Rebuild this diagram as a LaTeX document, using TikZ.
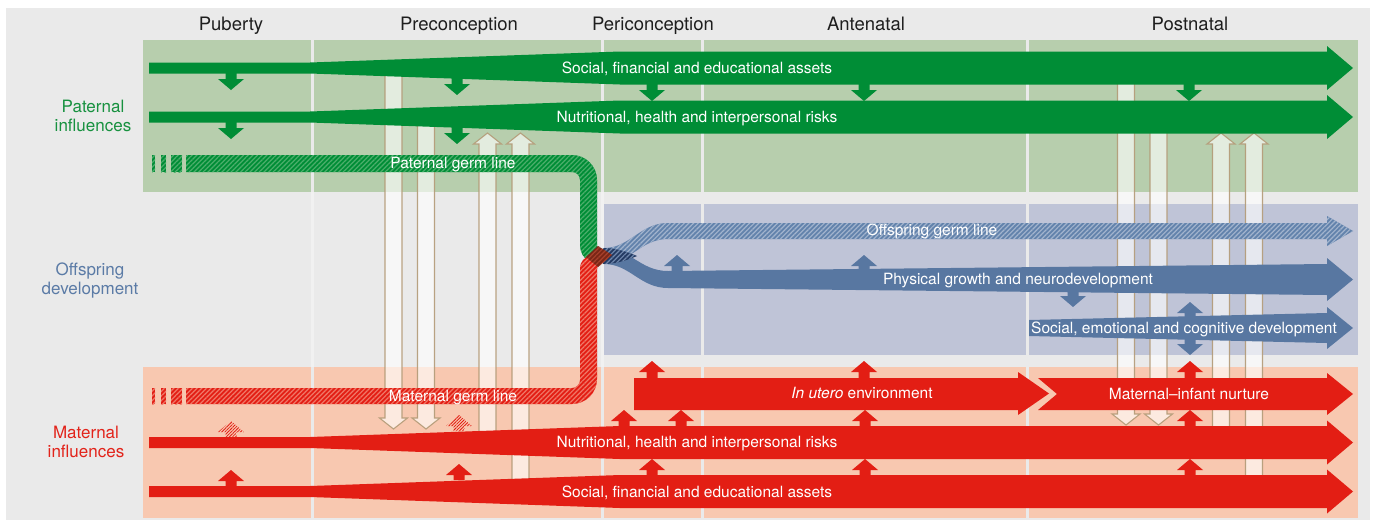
\documentclass[tikz,border=0pt]{standalone}
\usepackage{fontspec}
\setmainfont{TeX Gyre Heros}
\usetikzlibrary{patterns.meta}
\definecolor{bggray}{HTML}{EAEAEA}
\definecolor{bggreen}{HTML}{B7CEAD}
\definecolor{bgblue}{HTML}{BFC4D7}
\definecolor{bgpink}{HTML}{F8C8B0}
\definecolor{dgreen}{HTML}{008D36}
\definecolor{gstripe}{HTML}{4CAE6B}
\definecolor{oblue}{HTML}{5877A1}
\definecolor{lblue}{HTML}{6383AC}
\definecolor{bstripe}{HTML}{A2B4CE}
\definecolor{navy}{HTML}{243B63}
\definecolor{navystripe}{HTML}{7088AD}
\definecolor{mred}{HTML}{E31E14}
\definecolor{rstripe}{HTML}{F07868}
\definecolor{junc}{HTML}{7A2616}
\definecolor{juncstripe}{HTML}{A8412C}
\definecolor{paletan}{HTML}{B39A76}
\definecolor{labgreen}{HTML}{17913F}
\definecolor{labblue}{HTML}{5B7BA6}
\definecolor{labred}{HTML}{E2231A}
\definecolor{hdrtext}{HTML}{1E1E1E}
\tikzset{
  hdr/.style={font=\fontsize{18.5}{20}\selectfont, text=hdrtext, anchor=base, inner sep=0pt},
  rowlab/.style={font=\fontsize{17}{19}\selectfont, anchor=base, inner sep=0pt},
  blab/.style={font=\fontsize{15.5}{17}\selectfont, text=white, anchor=base, inner sep=0pt},
  pale/.style={fill=white, fill opacity=0.62, draw=paletan, draw opacity=0.9, line width=1.1pt},
  hatch/.style 2 args={fill=#1, postaction={pattern={Lines[angle=45,distance=3.3pt,line width=1.2pt]}, pattern color=#2}},
  thinhatch/.style={pattern={Lines[angle=45,distance=2.2pt,line width=0.8pt]}, pattern color=mred},
}
% small block arrows: x, tip y, stem end y
\newcommand\uarr[4][]{\path[#1] (#2,#3) -- (#2+13,#3+11) -- (#2+5.5,#3+11) -- (#2+5.5,#4) -- (#2-5.5,#4) -- (#2-5.5,#3+11) -- (#2-13,#3+11) -- cycle;}
\newcommand\darr[4][]{\path[#1] (#2,#3) -- (#2+13,#3-11) -- (#2+5.5,#3-11) -- (#2+5.5,#4) -- (#2-5.5,#4) -- (#2-5.5,#3-11) -- (#2-13,#3-11) -- cycle;}
% pale hollow arrows
\newcommand\puarr[3]{\path[pale] (#1,#2) -- (#1+14,#2+11) -- (#1+8.5,#2+11) -- (#1+8.5,#3) -- (#1-8.5,#3) -- (#1-8.5,#2+11) -- (#1-14,#2+11) -- cycle;}
\newcommand\pdarr[3]{\path[pale] (#1,#2) -- (#1+14,#2-11) -- (#1+8.5,#2-11) -- (#1+8.5,#3) -- (#1-8.5,#3) -- (#1-8.5,#2-11) -- (#1-14,#2-11) -- cycle;}
% tapered influence band: colour, centre y
\newcommand\taper[2]{\fill[#1] (149,#2-5.5) -- (310,#2-5.5) -- (620,#2-16.5) -- (1327,#2-16.5) -- (1327,#2-22) -- (1353,#2) -- (1327,#2+22) -- (1327,#2+16.5) -- (620,#2+16.5) -- (310,#2+5.5) -- (149,#2+5.5) -- cycle;}
\begin{document}
\begin{tikzpicture}[x=1pt,y=-1pt]
\useasboundingbox (0,0) rectangle (1375,520);
\fill[white] (0,0) rectangle (1375,520);
\fill[bggray] (6,8) rectangle (1370,520);
% region backgrounds
\foreach \a/\b in {143/311,314/601,604/701,704/1026,1029/1358}{
  \fill[bggreen] (\a,40) rectangle (\b,192);
  \fill[bgpink] (\a,367) rectangle (\b,518);}
\foreach \a/\b in {604/701,704/1026,1029/1358}
  \fill[bgblue] (\a,204) rectangle (\b,355);
\foreach \x in {312.5,602.5}
  \fill[white,opacity=0.35] (\x-1.5,192) rectangle (\x+1.5,367);

% pale vertical transfer arrows
\pdarr{393.5}{429}{74}
\pdarr{426}{429}{124}
\puarr{487.5}{133}{434}
\puarr{520.5}{133}{482}
\pdarr{1126}{425}{80}
\pdarr{1158.5}{425}{128}
\puarr{1221}{133}{430}
\puarr{1254}{133}{479}

% influence bands
\taper{dgreen}{68}
\taper{dgreen}{117}
\taper{mred}{442.5}
\taper{mred}{491.5}

% in utero and nurture
\fill[mred] (634,378) -- (1018,378) -- (1018,372) -- (1049,393.5) -- (1018,415) -- (1018,410) -- (634,410) -- cycle;
\fill[mred] (1038,378) -- (1327,378) -- (1327,373) -- (1353,394) -- (1327,415) -- (1327,410) -- (1038,410) -- (1057,394) -- cycle;

% offspring development bands
\fill[oblue] (604,248) .. controls (630,248) and (640,271) .. (668,271) -- (1327,264) -- (1327,258) -- (1353,279.5) -- (1327,301) -- (1327,295) -- (668,288) .. controls (640,288) and (630,264) .. (604,264) -- cycle;
\path[hatch={lblue}{bstripe}] (604,248) .. controls (630,248) and (640,223) .. (668,223) -- (1327,223) -- (1327,216) -- (1353,231) -- (1327,246) -- (1327,239) -- (668,239) .. controls (640,239) and (630,264) .. (604,264) -- cycle;
\path[hatch={navy}{navystripe}] (603,248) .. controls (615,248) and (625,251) .. (637,256) .. controls (625,261) and (615,264) .. (603,264) -- cycle;
\fill[oblue] (1029,320) -- (1327,313) -- (1327,307) -- (1353,328) -- (1327,349) -- (1327,343) -- (1029,336) -- cycle;

% germ lines
\path[hatch={dgreen}{gstripe}] (186,155) -- (572,155) arc[start angle=270,end angle=360,radius=25] -- (597,245) .. controls (597,252) and (602,255) .. (607,256) -- (590,262) .. controls (583,258) and (580,252) .. (580,245) -- (580,180) arc[start angle=0,end angle=-90,radius=8] -- (186,172) -- cycle;
\foreach \a/\b in {152/155,161/166,171/182}
  \path[hatch={dgreen}{gstripe}] (\a,155) rectangle (\b,172);
\path[hatch={mred}{rstripe}] (186,388) -- (572,388) arc[start angle=90,end angle=0,radius=8] -- (580,268) .. controls (580,262) and (584,258) .. (590,255) -- (607,257) .. controls (600,260) and (597,264) .. (597,270) -- (597,379) arc[start angle=0,end angle=90,radius=25] -- (186,404) -- cycle;
\foreach \a/\b in {152/155,161/166,171/182}
  \path[hatch={mred}{rstripe}] (\a,388) rectangle (\b,404);
\path[hatch={junc}{juncstripe}] (586,257) -- (598,246) -- (612,255) -- (598,267) -- cycle;

% small green arrows (paternal -> down)
\darr[fill=dgreen]{231}{90}{72}
\darr[fill=dgreen]{231}{139}{121}
\darr[fill=dgreen]{457}{95}{78}
\darr[fill=dgreen]{457}{144}{127}
\foreach \x in {652,864,1189} {\darr[fill=dgreen]{\x}{101}{83}}

% small red arrows (maternal -> up)
\uarr[fill=mred]{231}{470}{488}
\uarr[fill=mred]{459}{464}{480}
\foreach \x in {652,865,1190} {\uarr[fill=mred]{\x}{459}{477}}
\foreach \x in {624,681,865,1190} {\uarr[fill=mred]{\x}{410}{428}}
\foreach \x in {652,864,1190} {\uarr[fill=mred]{\x}{361}{380}}
\uarr[thinhatch]{231}{421}{437}
\uarr[thinhatch]{459}{415}{431}

% small blue arrows
\uarr[fill=oblue]{677}{255}{273}
\uarr[fill=oblue]{864}{255}{271}
\darr[fill=oblue]{1073}{307}{290}
\fill[oblue] (1190,302) -- (1203,313) -- (1195.5,313) -- (1195.5,344) -- (1203,344) -- (1190,355) -- (1177,344) -- (1184.5,344) -- (1184.5,313) -- (1177,313) -- cycle;

% headers
\node[hdr] (hpub) at (231,30.5) {Puberty};
\node[hdr] (hpre) at (459,30.5) {Preconception};
\node[hdr] (hperi) at (653,30.5) {Periconception};
\node[hdr] (hant) at (866,30.5) {Antenatal};
\node[hdr] (hpost) at (1190,30.5) {Postnatal};

% row labels
\node[rowlab,text=labgreen] (pat1) at (93,112) {Paternal};
\node[rowlab,text=labgreen] (pat2) at (93,131) {influences};
\node[rowlab,text=labblue] (off1) at (90,275) {Offspring};
\node[rowlab,text=labblue] (off2) at (90,294) {development};
\node[rowlab,text=labred] (mat1) at (86,438) {Maternal};
\node[rowlab,text=labred] (mat2) at (86,457) {influences};

% band labels
\node[blab] (ps) at (697,73.5) {Social, financial and educational assets};
\node[blab] (pn) at (697,122.5) {Nutritional, health and interpersonal risks};
\node[blab] (pg) at (453,168.5) {Paternal germ line};
\node[blab] (og) at (932,235.5) {Offspring germ line};
\node[blab] (pgr) at (1018,284.5) {Physical growth and neurodevelopment};
\node[blab] (sec) at (1184,333.5) {Social, emotional and cognitive development};
\node[blab] (iu) at (862,398.5) {\textit{In utero} environment};
\node[blab] (min) at (1189,399.5) {Maternal–infant nurture};
\node[blab] (mg) at (453,401.5) {Maternal germ line};
\node[blab] (mn) at (697,447.5) {Nutritional, health and interpersonal risks};
\node[blab] (ms) at (697,497.5) {Social, financial and educational assets};
\end{tikzpicture}
\end{document}
